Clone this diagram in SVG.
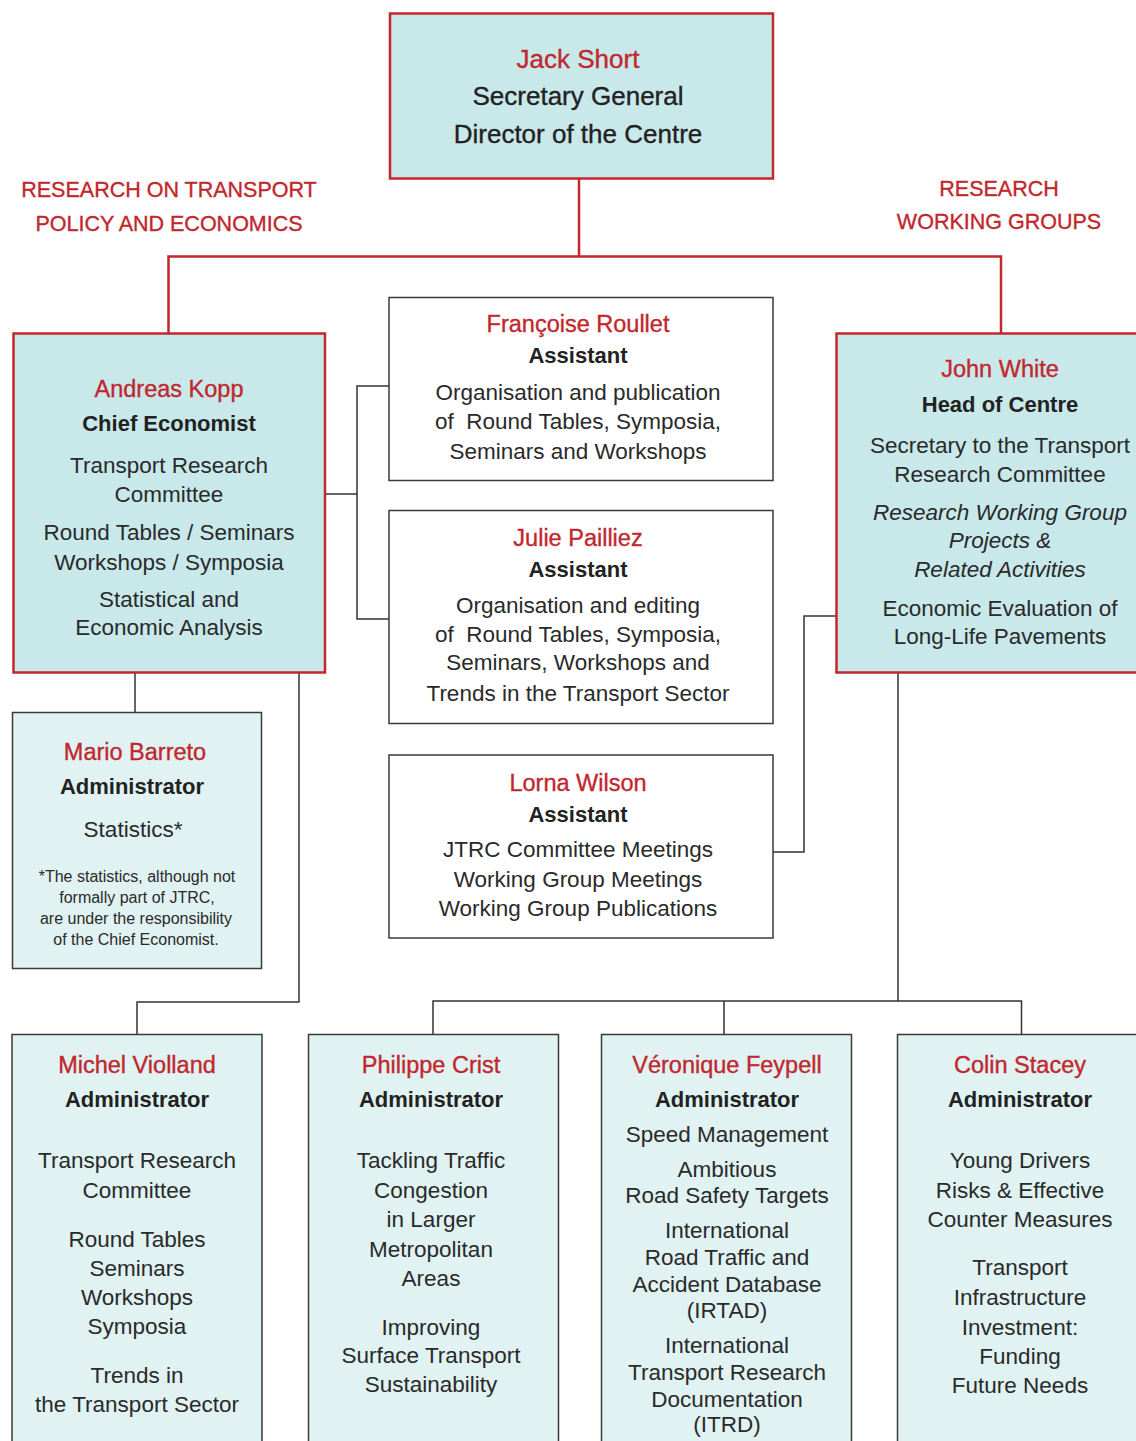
<svg xmlns="http://www.w3.org/2000/svg" width="1136" height="1441" viewBox="0 0 1136 1441">
<style>
text{font-family:"Liberation Sans",Arial,sans-serif;text-anchor:middle;fill:#2a2a2a}
.top{fill:#c8e8ea;stroke:#c1272d;stroke-width:2.5}
.mid{fill:#ffffff;stroke:#3a3a3a;stroke-width:1.5}
.low{fill:#e0f2f2;stroke:#3a3a3a;stroke-width:1.5}
.rl{fill:none;stroke:#c1272d;stroke-width:2.5}
.gl{fill:none;stroke:#333;stroke-width:1.5}
.nm{fill:#c1272d;font-size:23.5px;stroke:#c1272d;stroke-width:0.35}
.tt{font-weight:bold;font-size:22px;fill:#222}
.bd{font-size:22.5px;fill:#2a2a2a}
.it{font-style:italic}
.hd{fill:#c1272d;font-size:21.5px;stroke:#c1272d;stroke-width:0.35}
.jk{font-size:26px;fill:#222;stroke:#222;stroke-width:0.35}
.fn{font-size:16px}
</style>
<rect width="1136" height="1441" fill="#ffffff"/>
<g id="connectors">
<path class="rl" d="M579 178V256.5M168.5 333V256.5H1001V333"/>
<path class="gl" d="M325 494H357M389 386H357V619H389"/>
<path class="gl" d="M836 616H804V852H773"/>
<path class="gl" d="M135 672V712"/>
<path class="gl" d="M299 672V1002H137V1034"/>
<path class="gl" d="M898 672V1001M433 1034V1001H1021.5V1034M724 1001V1034"/>
</g>
<g id="headers">
<text class="hd" x="169" y="197">RESEARCH ON TRANSPORT</text>
<text class="hd" x="169" y="231">POLICY AND ECONOMICS</text>
<text class="hd" x="999" y="196">RESEARCH</text>
<text class="hd" x="999" y="229">WORKING GROUPS</text>
</g>
<g id="jack">
<rect class="top" x="390" y="13.5" width="383" height="165"/>
<text class="jk" x="578" y="68" style="fill:#c1272d;stroke:#c1272d">Jack Short</text>
<text class="jk" x="578" y="105">Secretary General</text>
<text class="jk" x="578" y="143">Director of the Centre</text>
</g>
<g id="andreas">
<rect class="top" x="13.5" y="333.5" width="311.5" height="339"/>
<text class="nm" x="169" y="397">Andreas Kopp</text>
<text class="tt" x="169" y="431">Chief Economist</text>
<text class="bd" x="169" y="473">Transport Research</text>
<text class="bd" x="169" y="502">Committee</text>
<text class="bd" x="169" y="540">Round Tables / Seminars</text>
<text class="bd" x="169" y="570">Workshops / Symposia</text>
<text class="bd" x="169" y="607">Statistical and</text>
<text class="bd" x="169" y="635">Economic Analysis</text>
</g>
<g id="john">
<rect class="top" x="836.5" y="333.5" width="310" height="339"/>
<text class="nm" x="1000" y="377">John White</text>
<text class="tt" x="1000" y="412">Head of Centre</text>
<text class="bd" x="1000" y="453">Secretary to the Transport</text>
<text class="bd" x="1000" y="482">Research Committee</text>
<text class="bd it" x="1000" y="520">Research Working Group</text>
<text class="bd it" x="1000" y="548">Projects &amp;</text>
<text class="bd it" x="1000" y="577">Related Activities</text>
<text class="bd" x="1000" y="616">Economic Evaluation of</text>
<text class="bd" x="1000" y="644">Long-Life Pavements</text>
</g>
<g id="francoise">
<rect class="mid" x="389" y="297.5" width="384" height="183"/>
<text class="nm" x="578" y="332">Françoise Roullet</text>
<text class="tt" x="578" y="363">Assistant</text>
<text class="bd" x="578" y="400">Organisation and publication</text>
<text class="bd" x="578" y="429" xml:space="preserve">of  Round Tables, Symposia,</text>
<text class="bd" x="578" y="459">Seminars and Workshops</text>
</g>
<g id="julie">
<rect class="mid" x="389" y="510.5" width="384" height="213"/>
<text class="nm" x="578" y="546">Julie Pailliez</text>
<text class="tt" x="578" y="577">Assistant</text>
<text class="bd" x="578" y="613">Organisation and editing</text>
<text class="bd" x="578" y="642" xml:space="preserve">of  Round Tables, Symposia,</text>
<text class="bd" x="578" y="670">Seminars, Workshops and</text>
<text class="bd" x="578" y="701">Trends in the Transport Sector</text>
</g>
<g id="lorna">
<rect class="mid" x="389" y="755" width="384" height="183"/>
<text class="nm" x="578" y="791">Lorna Wilson</text>
<text class="tt" x="578" y="822">Assistant</text>
<text class="bd" x="578" y="857">JTRC Committee Meetings</text>
<text class="bd" x="578" y="887">Working Group Meetings</text>
<text class="bd" x="578" y="916">Working Group Publications</text>
</g>
<g id="mario">
<rect class="low" x="12.5" y="712.5" width="249" height="256"/>
<text class="nm" x="135" y="760">Mario Barreto</text>
<text class="tt" x="132" y="794">Administrator</text>
<text class="bd" x="133" y="837">Statistics*</text>
<text class="fn" x="137" y="882">*The statistics, although not</text>
<text class="fn" x="137" y="903">formally part of JTRC,</text>
<text class="fn" x="136" y="924">are under the responsibility</text>
<text class="fn" x="136" y="945">of the Chief Economist.</text>
</g>
<g id="michel">
<rect class="low" x="12" y="1034.5" width="250" height="420"/>
<text class="nm" x="137" y="1073">Michel Violland</text>
<text class="tt" x="137" y="1107">Administrator</text>
<text class="bd" x="137" y="1168">Transport Research</text>
<text class="bd" x="137" y="1198">Committee</text>
<text class="bd" x="137" y="1247">Round Tables</text>
<text class="bd" x="137" y="1276">Seminars</text>
<text class="bd" x="137" y="1305">Workshops</text>
<text class="bd" x="137" y="1334">Symposia</text>
<text class="bd" x="137" y="1383">Trends in</text>
<text class="bd" x="137" y="1412">the Transport Sector</text>
</g>
<g id="philippe">
<rect class="low" x="308.5" y="1034.5" width="250" height="420"/>
<text class="nm" x="431" y="1073">Philippe Crist</text>
<text class="tt" x="431" y="1107">Administrator</text>
<text class="bd" x="431" y="1168">Tackling Traffic</text>
<text class="bd" x="431" y="1198">Congestion</text>
<text class="bd" x="431" y="1227">in Larger</text>
<text class="bd" x="431" y="1257">Metropolitan</text>
<text class="bd" x="431" y="1286">Areas</text>
<text class="bd" x="431" y="1335">Improving</text>
<text class="bd" x="431" y="1363">Surface Transport</text>
<text class="bd" x="431" y="1392">Sustainability</text>
</g>
<g id="veronique">
<rect class="low" x="601.5" y="1034.5" width="250" height="420"/>
<text class="nm" x="727" y="1073">Véronique Feypell</text>
<text class="tt" x="727" y="1107">Administrator</text>
<text class="bd" x="727" y="1142">Speed Management</text>
<text class="bd" x="727" y="1177">Ambitious</text>
<text class="bd" x="727" y="1203">Road Safety Targets</text>
<text class="bd" x="727" y="1238">International</text>
<text class="bd" x="727" y="1265">Road Traffic and</text>
<text class="bd" x="727" y="1292">Accident Database</text>
<text class="bd" x="727" y="1318">(IRTAD)</text>
<text class="bd" x="727" y="1353">International</text>
<text class="bd" x="727" y="1380">Transport Research</text>
<text class="bd" x="727" y="1407">Documentation</text>
<text class="bd" x="727" y="1432">(ITRD)</text>
</g>
<g id="colin">
<rect class="low" x="897.5" y="1034.5" width="250" height="420"/>
<text class="nm" x="1020" y="1073">Colin Stacey</text>
<text class="tt" x="1020" y="1107">Administrator</text>
<text class="bd" x="1020" y="1168">Young Drivers</text>
<text class="bd" x="1020" y="1198">Risks &amp; Effective</text>
<text class="bd" x="1020" y="1227">Counter Measures</text>
<text class="bd" x="1020" y="1275">Transport</text>
<text class="bd" x="1020" y="1305">Infrastructure</text>
<text class="bd" x="1020" y="1335">Investment:</text>
<text class="bd" x="1020" y="1364">Funding</text>
<text class="bd" x="1020" y="1393">Future Needs</text>
</g>
</svg>
